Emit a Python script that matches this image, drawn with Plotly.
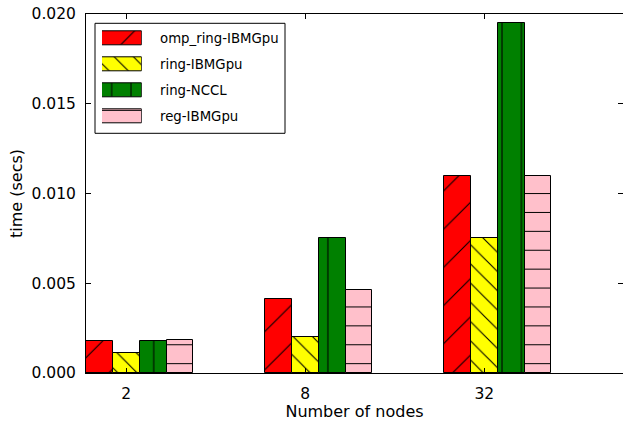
import plotly.graph_objects as go

# Node counts on the x axis
nodes = ["2", "8", "32"]

# Measured time per run (seconds)
omp_ring_ibmgpu = [0.0018, 0.0041, 0.0110]
ring_ibmgpu = [0.0011, 0.0020, 0.0075]
ring_nccl = [0.0018, 0.0075, 0.0195]
reg_ibmgpu = [0.00185, 0.0046, 0.0110]

series_names = ["omp_ring-IBMGpu", "ring-IBMGpu", "ring-NCCL", "reg-IBMGpu"]
series_values = [omp_ring_ibmgpu, ring_ibmgpu, ring_nccl, reg_ibmgpu]

# Fill colours and hatch styles for each series
colors = ["#ff0000", "#ffff00", "#008000", "#ffc0cb"]
hatches = [
    dict(shape="/", size=27, solidity=0.04),
    dict(shape="\\", size=13.6, solidity=0.08),
    dict(shape="|", size=19.35, solidity=0.055),
    dict(shape="-", size=18.9, solidity=0.055),
]

BAR_W = 0.15
FONT = "DejaVu Sans"

# Plot-area geometry in pixels (used to place the legend box)
PL, PR, PT, PB = 86, 623, 14, 373
PW, PH = PR - PL, PB - PT


def px_x(x):
    return (x - PL) / PW


def px_y(y):
    return (PB - y) / PH


def marker_for(k):
    return dict(
        color=colors[k],
        line=dict(color="black", width=1),
        pattern=dict(
            shape=hatches[k]["shape"],
            size=hatches[k]["size"],
            solidity=hatches[k]["solidity"],
            fgcolor="black",
            bgcolor=colors[k],
            fillmode="replace",
        ),
    )


fig = go.Figure()

# Grouped bars: each group starts at its integer index, bars placed edge to edge
for k, (name, vals) in enumerate(zip(series_names, series_values)):
    xs = [i + BAR_W / 2 + k * BAR_W for i in range(len(nodes))]
    fig.add_trace(go.Bar(
        x=xs, y=vals, width=BAR_W, name=name,
        marker=marker_for(k), showlegend=False,
    ))

# Legend: hatched swatches on their own tiny axes, labels beside them
LEG_TOP, ROW_H = 25.3, 26
for k, name in enumerate(series_names):
    fig.add_trace(go.Bar(
        x=[1], y=[k], base=0, orientation="h", width=0.52,
        marker=marker_for(k), xaxis="x2", yaxis="y2",
        showlegend=False, hoverinfo="skip",
    ))
    fig.add_annotation(
        x=px_x(157.7), y=px_y(LEG_TOP + (k + 0.5) * ROW_H),
        xref="paper", yref="paper", text=name, showarrow=False,
        xanchor="left", yanchor="middle",
        font=dict(family=FONT, size=13.3, color="black"),
    )

tick_pos = [i + 1.5 * BAR_W for i in range(len(nodes))]

axis_common = dict(
    showline=True, linecolor="black", linewidth=1, mirror="allticks",
    ticks="inside", ticklen=5, tickcolor="black", tickwidth=1,
    showgrid=False, zeroline=False,
    tickfont=dict(family=FONT, size=15.5, color="black"),
)

fig.update_layout(
    width=623, height=421,
    margin=dict(l=PL, r=0, t=PT, b=421 - PB),
    paper_bgcolor="white", plot_bgcolor="white",
    bargap=0, barmode="overlay",
    font=dict(family=FONT, color="black"),
    xaxis=dict(
        range=[0, 3], tickvals=tick_pos, ticktext=nodes,
        title=dict(text="Number of nodes", font=dict(family=FONT, size=16, color="black"), standoff=8),
        ticklabelstandoff=6,
        **axis_common,
    ),
    yaxis=dict(
        range=[0, 0.02], dtick=0.005, tickformat=".3f",
        title=dict(text="time (secs)", font=dict(family=FONT, size=16, color="black"), standoff=4),
        ticklabelstandoff=6,
        **axis_common,
    ),
    xaxis2=dict(domain=[px_x(102), px_x(141.7)], anchor="y2",
                range=[0, 1], visible=False, fixedrange=True),
    yaxis2=dict(domain=[px_y(LEG_TOP + 4 * ROW_H), px_y(LEG_TOP)], anchor="x2",
                range=[3.5, -0.5], visible=False, fixedrange=True),
    shapes=[dict(
        type="rect", xref="paper", yref="paper", layer="below",
        x0=px_x(95), x1=px_x(285), y0=px_y(133.3), y1=px_y(23.3),
        line=dict(color="black", width=1), fillcolor="white",
    )],
)

fig.write_html("out.html")
